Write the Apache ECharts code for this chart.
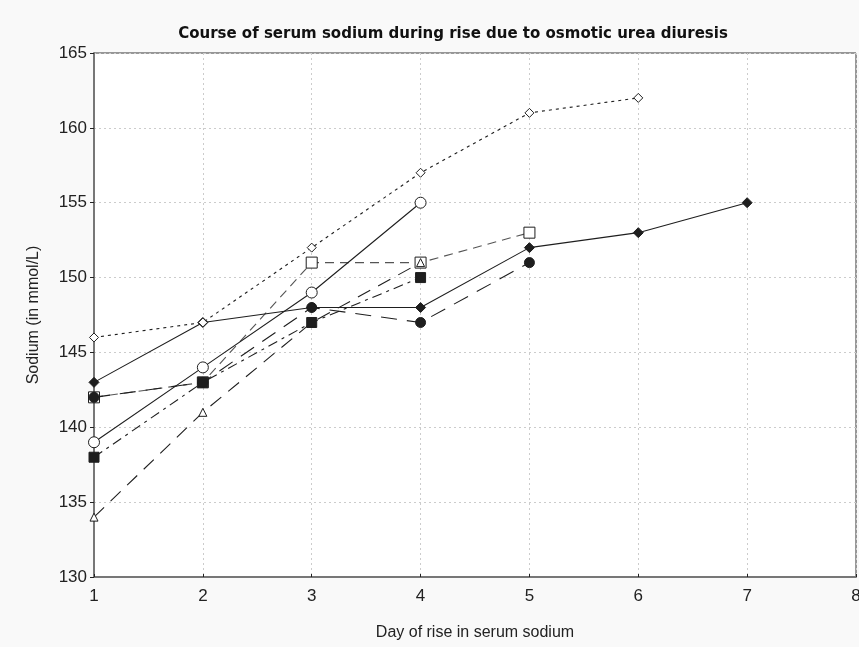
<!DOCTYPE html>
<html>
<head>
<meta charset="utf-8">
<script src="https://cdn.jsdelivr.net/npm/echarts@6/dist/echarts.min.js"></script>
<style>
html,body{margin:0;padding:0;background:#f9f9f9;}
#chart{width:859px;height:647px;}
</style>
</head>
<body>
<div id="chart"></div>
<script>
// Data (day index 1..7)
const days = [1, 2, 3, 4, 5, 6, 7];
const xTicks = [1, 2, 3, 4, 5, 6, 7, 8];
const yTicks = [130, 135, 140, 145, 150, 155, 160, 165];

const openDiamond   = [146, 147, 152, 157, 161, 162];        // dotted
const filledDiamond = [143, 147, 148, 148, 152, 153, 155];   // solid
const openCircle    = [139, 144, 149, 155];                  // solid
const filledSquare  = [138, 143, 147, 150];                  // dash-dot
const openTriangle  = [134, 141, 147, 151];                  // long dash
const filledCircle  = [142, 143, 148, 147, 151];             // long dash
const openSquare    = [142, 143, 151, 151, 153];             // dashed

const titleText = 'Course of serum sodium during rise due to osmotic urea diuresis';
const xName = 'Day of rise in serum sodium';
const yName = 'Sodium (in mmol/L)';

function pts(vals) { return vals.map((v, i) => [days[i], v]); }

const ink = '#1e1e1e';
const font = 'Liberation Sans, Arial, sans-serif';

function mk(name, vals, symbol, size, filled, lineType, color, z) {
  return {
    name: name,
    type: 'line',
    data: pts(vals),
    symbol: symbol,
    symbolSize: size,
    showAllSymbol: true,
    clip: false,
    z: z,
    lineStyle: { color: color || ink, width: 1.1, type: lineType },
    itemStyle: filled
      ? { color: ink, borderColor: ink, borderWidth: 1 }
      : { color: '#ffffff', borderColor: ink, borderWidth: 1 },
    emphasis: { disabled: true }
  };
}

const chart = echarts.init(document.getElementById('chart'), null, { renderer: 'canvas' });
chart.setOption({
  animation: false,
  backgroundColor: '#f9f9f9',
  title: {
    text: titleText,
    left: 448,
    textAlign: 'center',
    top: 22,
    textStyle: { fontFamily: 'DejaVu Sans, sans-serif', fontSize: 15, fontWeight: 'bold', color: '#111' }
  },
  grid: {
    left: 94, right: 3, top: 53, bottom: 70,
    containLabel: false, outerBoundsMode: 'none',
    show: true, backgroundColor: '#ffffff', borderColor: '#333', borderWidth: 1
  },
  xAxis: {
    type: 'value', min: xTicks[0], max: xTicks[xTicks.length - 1], interval: 1,
    name: xName, nameLocation: 'middle', nameGap: 48,
    nameTextStyle: { fontFamily: font, fontSize: 16, color: '#222' },
    axisLine: { show: true, lineStyle: { color: '#777', width: 2 } },
    axisTick: { show: true, inside: true, length: 3, lineStyle: { color: '#222' } },
    axisLabel: { fontFamily: font, fontSize: 17, color: '#222', margin: 11 },
    splitLine: { show: true, lineStyle: { color: '#cccccc', type: [2, 3], width: 1 } }
  },
  yAxis: {
    type: 'value', min: yTicks[0], max: yTicks[yTicks.length - 1], interval: 5,
    name: yName, nameLocation: 'middle', nameGap: 52,
    nameTextStyle: { fontFamily: font, fontSize: 16, color: '#222' },
    axisLine: { show: true, lineStyle: { color: '#777', width: 2 } },
    axisTick: { show: true, inside: false, length: 4, lineStyle: { color: '#222' } },
    axisLabel: { fontFamily: font, fontSize: 17, color: '#222', margin: 7 },
    splitLine: { show: true, lineStyle: { color: '#cccccc', type: [2, 3], width: 1 } }
  },
  series: [
    mk('openSquare', openSquare, 'rect', 11, false, [9, 6], '#555', 2),
    mk('filledCircle', filledCircle, 'circle', 10, true, [16, 10], ink, 3),
    mk('openTriangle', openTriangle, 'triangle', 8, false, [14, 9], ink, 4),
    mk('filledSquare', filledSquare, 'rect', 10, true, [10, 5, 3, 5], ink, 5),
    mk('openCircle', openCircle, 'circle', 11, false, 'solid', ink, 6),
    mk('filledDiamond', filledDiamond, 'diamond', 10, true, 'solid', ink, 7),
    mk('openDiamond', openDiamond, 'diamond', 9, false, [3, 4], ink, 8)
  ]
});
</script>
</body>
</html>
